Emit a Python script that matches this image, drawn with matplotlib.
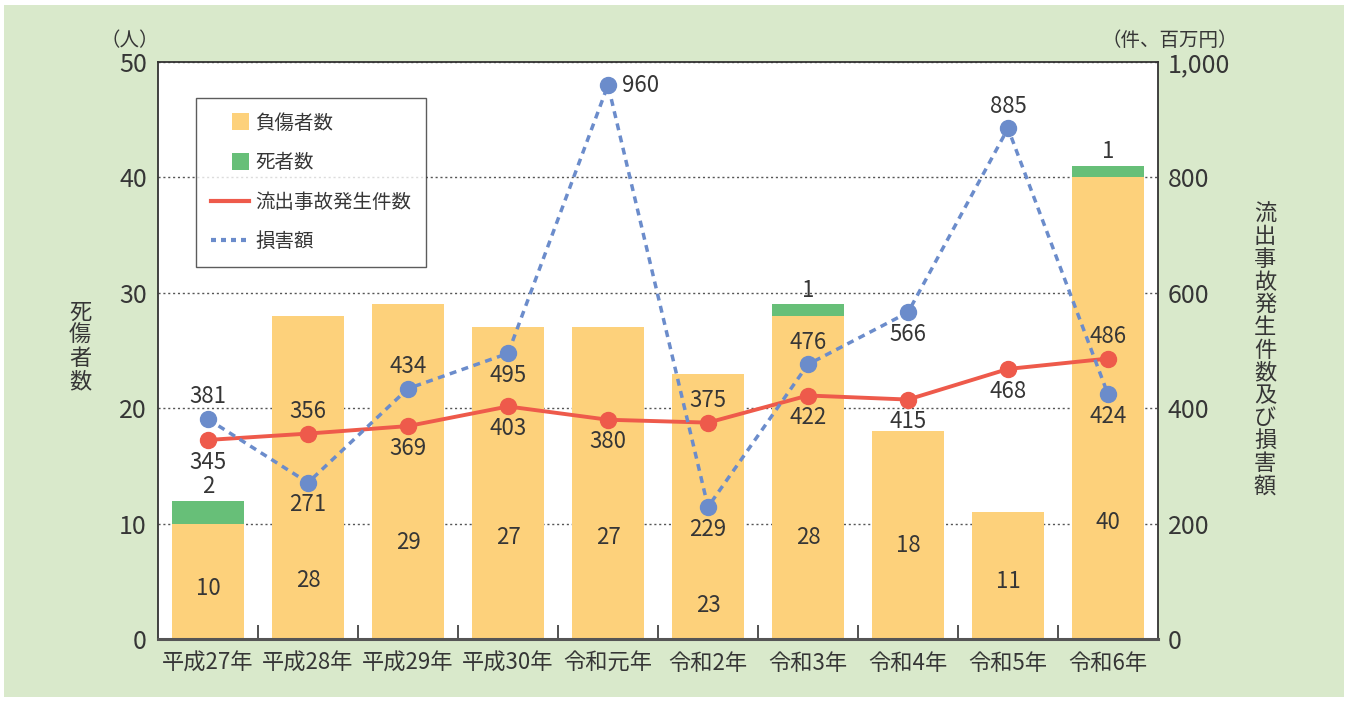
import matplotlib.pyplot as plt
import numpy as np
from matplotlib.legend_handler import HandlerPatch
from matplotlib.lines import Line2D
from matplotlib.patches import Patch, Rectangle

plt.rcParams["font.family"] = ["Liberation Sans Narrow", "Noto Sans CJK JP", "DejaVu Sans"]

# データ
YEARS = ["平成27年", "平成28年", "平成29年", "平成30年", "令和元年",
         "令和2年", "令和3年", "令和4年", "令和5年", "令和6年"]
INJURED = [10, 28, 29, 27, 27, 23, 28, 18, 11, 40]
DEAD = [2, 0, 0, 0, 0, 0, 1, 0, 0, 1]
INCIDENTS = [345, 356, 369, 403, 380, 375, 422, 415, 468, 486]
DAMAGE = [381, 271, 434, 495, 960, 229, 476, 566, 885, 424]

# ラベル配置（レイアウト用）
INJ_LABEL_Y = [4.4, 5.1, 8.4, 8.8, 8.8, 2.9, 8.8, 8.1, 5.0, 10.1]
INC_POS = ["below", "above", "below", "below", "below", "above", "below", "below", "below", "above"]
DMG_POS = ["above", "below", "above", "below", "right", "below", "above", "below", "above", "below"]

C_INJ = "#FDD17B"
C_DEAD = "#67BF78"
C_RED = "#EE5A4B"
C_BLUE = "#6B8CCB"
C_BG = "#D9E9CB"
C_TXT = "#363636"

fig = plt.figure(figsize=(13.48, 7.01), dpi=100, facecolor="white")
fig.patches.append(Rectangle((4 / 1348, 4 / 701), 1340 / 1348, 692 / 701,
                             transform=fig.transFigure, facecolor=C_BG,
                             edgecolor="none", zorder=-10))

ax = fig.add_axes([158 / 1348, 62 / 701, 1000 / 1348, 577 / 701])
ax.set_facecolor("white")
x = np.arange(len(YEARS))

ax.bar(x, INJURED, width=0.72, color=C_INJ, zorder=2)
ax.bar(x, DEAD, width=0.72, bottom=INJURED, color=C_DEAD, zorder=2)

ax.set_xlim(-0.5, len(YEARS) - 0.5)
ax.set_ylim(0, 50)
ax.set_yticks(range(0, 51, 10))
ax.yaxis.grid(True, linestyle=(0, (1.5, 2)), color="#555555", linewidth=1)
ax.set_axisbelow(True)
ax.tick_params(axis="y", length=0, labelsize=18, pad=8, labelcolor=C_TXT)
ax.set_xticks(x)
ax.set_xticklabels(YEARS)
ax.tick_params(axis="x", which="major", length=0, labelsize=16, pad=9, labelcolor=C_TXT)
ax.set_xticks(np.arange(0.5, len(YEARS) - 0.5, 1), minor=True)
ax.tick_params(axis="x", which="minor", direction="in", length=10, width=1.2, color="#333333")

for s in ["left", "top", "right"]:
    ax.spines[s].set_color("#333333")
    ax.spines[s].set_linewidth(1.3)
ax.spines["bottom"].set_color("#555555")
ax.spines["bottom"].set_linewidth(2.2)

# 棒ラベル
for i, v in enumerate(INJURED):
    ax.text(x[i], INJ_LABEL_Y[i], str(v), ha="center", va="center",
            fontsize=16, color=C_TXT, zorder=5)
for i, v in enumerate(DEAD):
    if v > 0:
        ax.annotate(str(v), (x[i], INJURED[i] + v), xytext=(0, 2),
                    textcoords="offset points", ha="center", va="bottom",
                    fontsize=16, color=C_TXT)

ax2 = ax.twinx()
ax2.set_ylim(0, 1000)
ax2.set_yticks(range(0, 1001, 200))
ax2.set_yticklabels([f"{v:,}" for v in range(0, 1001, 200)])
ax2.tick_params(axis="y", length=0, labelsize=18, pad=7, labelcolor=C_TXT)
for s in ax2.spines.values():
    s.set_visible(False)

ax2.plot(x, INCIDENTS, color=C_RED, linewidth=2.8, marker="o",
         markersize=11.5, zorder=3)
ax2.plot(x, DAMAGE, color=C_BLUE, linewidth=2.5, linestyle=(0, (2.0, 1.6)),
         marker="o", markersize=11.5, zorder=4)


def _label(vals, pos):
    for i, v in enumerate(vals):
        if pos[i] == "above":
            off, ha = (0, 16), "center"
        elif pos[i] == "below":
            off, ha = (0, -16), "center"
        else:
            off, ha = (10, 0), "left"
        ax2.annotate(str(v), (x[i], v), xytext=off, textcoords="offset points",
                     ha=ha, va="center", fontsize=16, color=C_TXT, zorder=6)


_label(INCIDENTS, INC_POS)
_label(DAMAGE, DMG_POS)


# 凡例の四角は右寄せの小さな正方形
def _square(legend, orig_handle, xdescent, ydescent, width, height, fontsize):
    s = 12.5
    return Rectangle((-xdescent + width - s, -ydescent + (height - s) / 2), s, s)


handles = [
    Patch(facecolor=C_INJ, edgecolor="none"),
    Patch(facecolor=C_DEAD, edgecolor="none"),
    Line2D([], [], color=C_RED, linewidth=3),
    Line2D([], [], color=C_BLUE, linewidth=3, linestyle=(0, (1.2, 1.2))),
]
labels = ["負傷者数", "死者数", "流出事故発生件数", "損害額"]
leg = ax2.legend(handles, labels, loc="upper left", bbox_to_anchor=(0.038, 0.9376),
                 fontsize=14, frameon=True, fancybox=False, edgecolor="#333333",
                 labelspacing=0.95, handlelength=2.0, handletextpad=0.3,
                 borderpad=0.75, borderaxespad=0,
                 handler_map={Patch: HandlerPatch(patch_func=_square)})
leg.get_frame().set_linewidth(1.0)
for t in leg.get_texts():
    t.set_color(C_TXT)

# 軸タイトル
fig.text(130 / 1348, 1 - 41 / 701, "（人）", ha="center", va="center", fontsize=14, color=C_TXT)
fig.text(1170 / 1348, 1 - 41 / 701, "（件、百万円）", ha="center", va="center", fontsize=14, color=C_TXT)
fig.text(80 / 1348, 1 - 347 / 701, "\n".join("死傷者数"), ha="center", va="center",
         fontsize=16, color=C_TXT, linespacing=1.0)
fig.text(1265 / 1348, 1 - 350 / 701, "\n".join("流出事故発生件数及び損害額"), ha="center",
         va="center", fontsize=16, color=C_TXT, linespacing=0.98)

fig.savefig("out.png", dpi=100, facecolor=fig.get_facecolor())
